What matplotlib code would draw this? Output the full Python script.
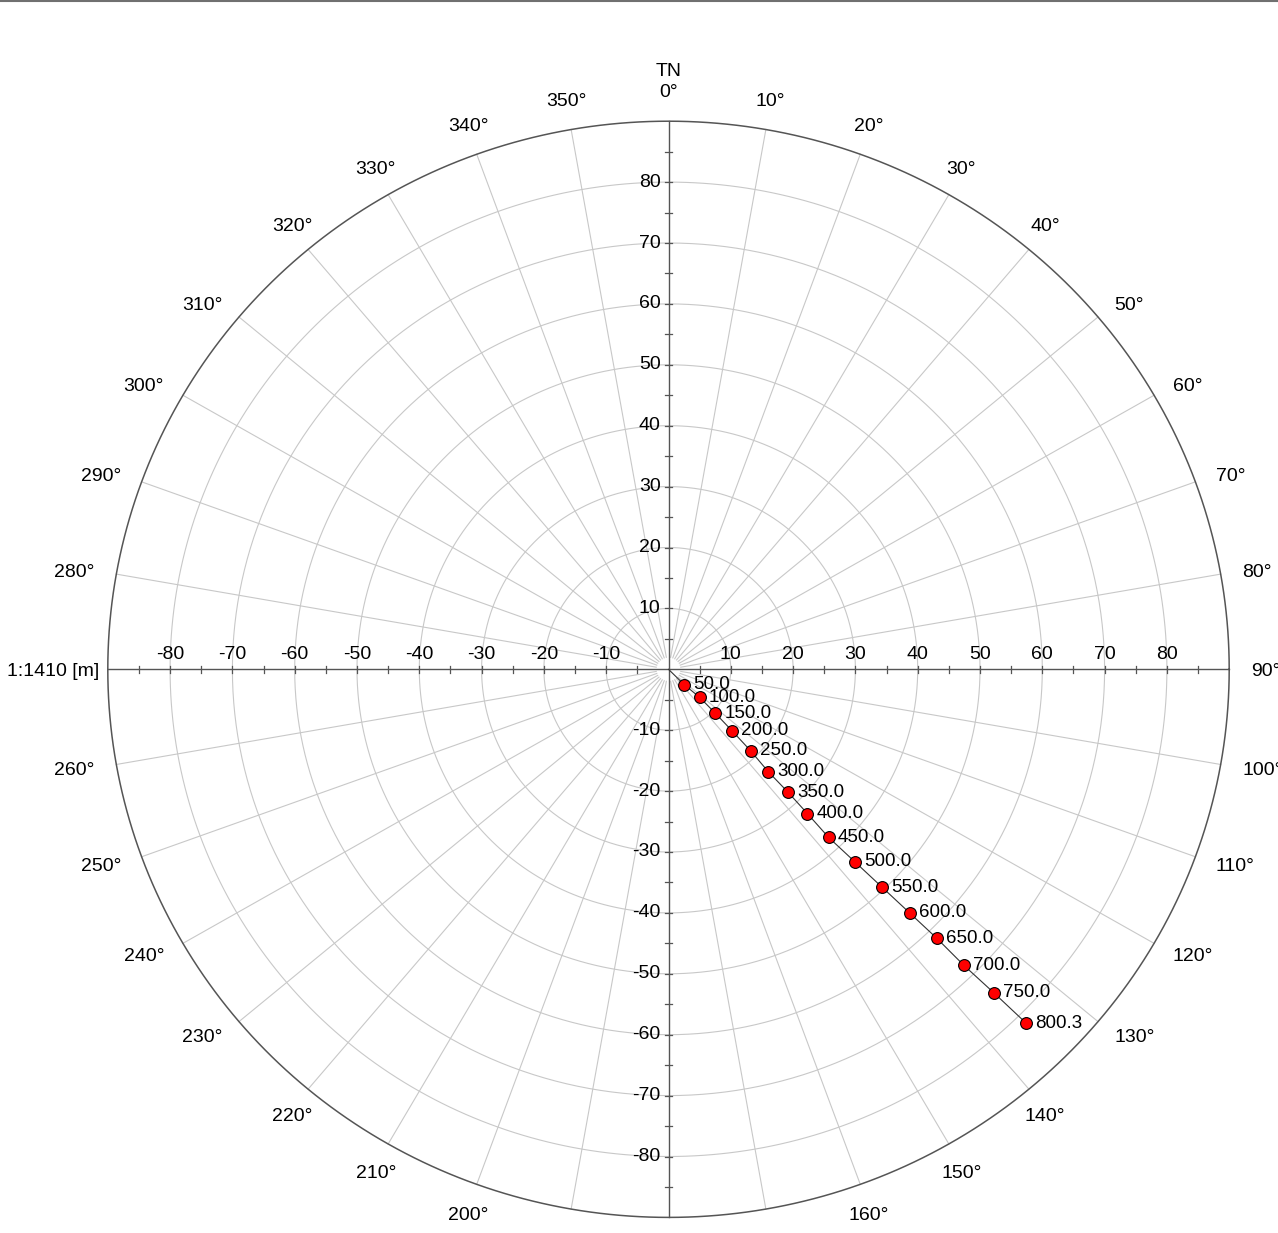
import numpy as np
import matplotlib.pyplot as plt
from matplotlib.lines import Line2D

plt.rcParams['font.family'] = ['Liberation Sans', 'DejaVu Sans']

# ------------------------------
# Data: survey stations (plan view, metres east / north of the wellhead)
# ------------------------------
md_labels = ["50.0", "100.0", "150.0", "200.0", "250.0", "300.0", "350.0", "400.0",
             "450.0", "500.0", "550.0", "600.0", "650.0", "700.0", "750.0", "800.3"]
east = [2.5, 5.0, 7.5, 10.2, 13.2, 16.0, 19.2, 22.3,
        25.7, 29.9, 34.3, 38.7, 43.1, 47.4, 52.2, 57.4]
north = [-2.5, -4.6, -7.2, -10.1, -13.4, -16.8, -20.2, -23.7,
         -27.6, -31.6, -35.8, -40.0, -44.2, -48.6, -53.1, -58.1]

ring_radii = [10, 20, 30, 40, 50, 60, 70, 80]
outer_radius = 90
axis_ticks = [-80, -70, -60, -50, -40, -30, -20, -10, 10, 20, 30, 40, 50, 60, 70, 80]
scale_label = "1:1410 [m]"

# ------------------------------
# Figure set up so the plot centre / scale land where they do in the original
# ------------------------------
W, H = 1278, 1233
cx, cy = 668.5, 669.3      # pixel centre
sx, sy = 6.23, 6.09        # pixels per metre (image is slightly stretched)

fig = plt.figure(figsize=(W / 100, H / 100), dpi=100)
ax = fig.add_axes([0, 0, 1, 1])
ax.set_xlim(-cx / sx, (W - cx) / sx)
ax.set_ylim(-(H - cy) / sy, cy / sy)
ax.set_aspect('auto')
ax.axis('off')

grid_col = '#c8c8c8'
axis_col = '#555555'
t = np.linspace(0, 2 * np.pi, 721)

# rings
for r in ring_radii:
    ax.plot(r * np.cos(t), r * np.sin(t), color=grid_col, lw=0.8, zorder=1)
ax.plot(outer_radius * np.cos(t), outer_radius * np.sin(t), color=axis_col, lw=1.1, zorder=2)

# spokes every 10 degrees (azimuth measured clockwise from north)
for az in range(0, 360, 10):
    if az % 90 == 0:
        continue
    a = np.radians(az)
    ax.plot([2 * np.sin(a), outer_radius * np.sin(a)],
            [2 * np.cos(a), outer_radius * np.cos(a)],
            color=grid_col, lw=0.8, zorder=1)

# main axes through the centre
ax.plot([-outer_radius, outer_radius], [0, 0], color=axis_col, lw=1.0, zorder=3)
ax.plot([0, 0], [-outer_radius, outer_radius], color=axis_col, lw=1.0, zorder=3)

# tick marks every 5 m, crossing the axis
tx = 3.5 / sx
ty = 3.5 / sy
for v in np.arange(-85, 90, 5):
    if v == 0:
        continue
    ax.plot([v, v], [-ty, ty], color=axis_col, lw=0.9, zorder=3)
    ax.plot([-tx, tx], [v, v], color=axis_col, lw=0.9, zorder=3)

for v in axis_ticks:
    ax.text(v, 10 / sy, str(v), ha='center', va='baseline', fontsize=14, zorder=4)
    ax.text(-8 / sx, v, str(v), ha='right', va='center', fontsize=14, zorder=4)

# azimuth labels - anchor side depends on which quarter the label sits in
label_r = 94.0
for az in range(0, 360, 10):
    a = np.radians(az)
    if az == 270:
        ax.text(-91.4, -2 / sy, scale_label, ha='right', va='center', fontsize=14)
        continue
    dy = 0
    if az < 45 or az > 315:
        ha, va, r = 'center', 'baseline', label_r
    elif az < 135:
        ha, va, r, dy = 'left', 'center', label_r - 0.5, -2 / sy
    elif az < 225:
        ha, va, r = 'center', 'top', label_r
    else:
        ha, va, r, dy = 'right', 'center', label_r - 0.5, -2 / sy
    ax.text(r * np.sin(a), r * np.cos(a) + dy, f"{az}°", ha=ha, va=va, fontsize=14)
ax.text(0, label_r + 21 / sy, "TN", ha='center', va='baseline', fontsize=14)

# well path
ax.plot([0] + east, [0] + north, color='#333333', lw=0.8, zorder=5)
ax.plot(east, north, 'o', color='#ff0000', markersize=8.5,
        markeredgecolor='black', markeredgewidth=0.8, zorder=6)
for x, y, s in zip(east, north, md_labels):
    ax.annotate(s, (x, y), xytext=(6.5, 0), textcoords='offset points',
                ha='left', va='center', fontsize=13.5, zorder=7)

# thin frame line along the top edge
fig.add_artist(Line2D([0, 1], [0.999, 0.999], color='#707070', lw=1.5,
                      transform=fig.transFigure))

fig.savefig('out.png', dpi=100)
